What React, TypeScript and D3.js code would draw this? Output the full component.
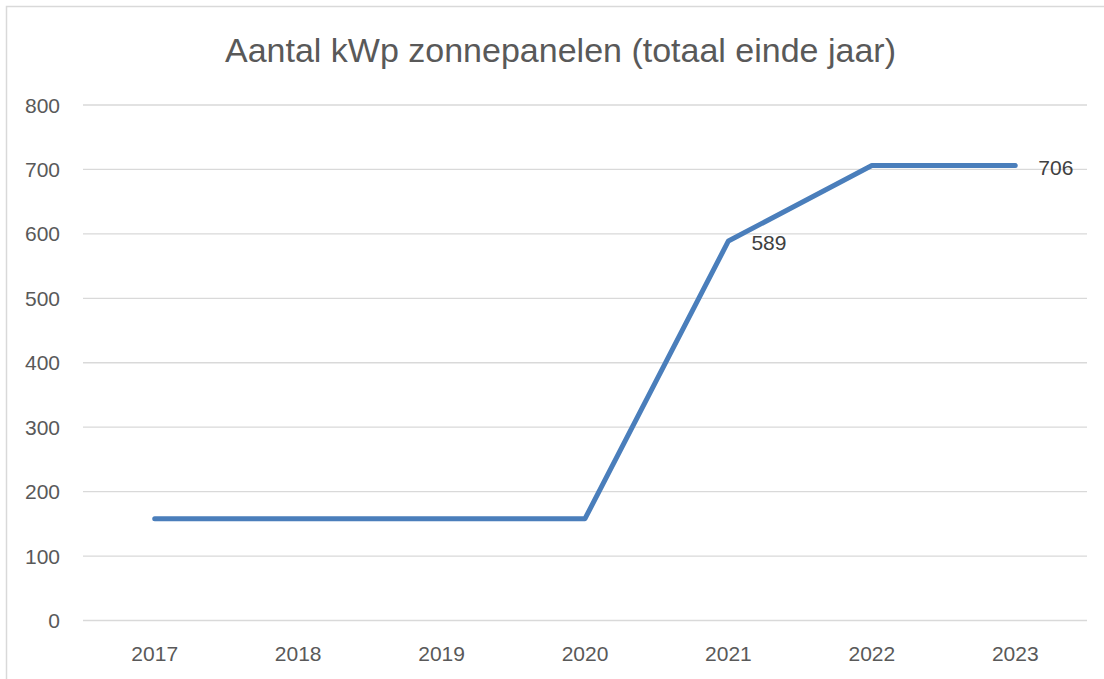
import React, { useEffect, useRef } from "react";
import * as d3 from "d3";

const title = "Aantal kWp zonnepanelen (totaal einde jaar)";
const years = ["2017", "2018", "2019", "2020", "2021", "2022", "2023"];
const values = [158, 158, 158, 158, 589, 706, 706];
const labelled = ["2021", "2023"];
const yTicks = [0, 100, 200, 300, 400, 500, 600, 700, 800];

const W = 1104;
const H = 679;
const FONT = "'Liberation Sans', Arial, sans-serif";

export default function App() {
  const ref = useRef<SVGSVGElement | null>(null);

  useEffect(() => {
    if (!ref.current) return;
    const svg = d3.select(ref.current);
    svg.selectAll("*").remove();

    const left = 83;
    const right = 1087;
    const top = 105;
    const bottom = 620.5;

    // chart frame
    svg
      .append("rect")
      .attr("x", 6.5)
      .attr("y", 6.5)
      .attr("width", W + 20)
      .attr("height", H + 20)
      .attr("fill", "#fff")
      .attr("stroke", "#d9d9d9")
      .attr("stroke-width", 1.5);

    const x = d3.scaleBand().domain(years).range([left, right]);
    const y = d3.scaleLinear().domain([0, 800]).range([bottom, top]);

    svg
      .append("text")
      .attr("x", 560.5)
      .attr("y", 62)
      .attr("text-anchor", "middle")
      .attr("font-family", FONT)
      .attr("font-size", 34)
      .attr("fill", "#595959")
      .text(title);

    const grid = svg.append("g");
    grid
      .selectAll("line")
      .data(yTicks)
      .enter()
      .append("line")
      .attr("x1", left)
      .attr("x2", right)
      .attr("y1", (d) => y(d))
      .attr("y2", (d) => y(d))
      .attr("stroke", "#d9d9d9")
      .attr("stroke-width", 1.3);

    grid
      .selectAll("text")
      .data(yTicks)
      .enter()
      .append("text")
      .attr("x", 60)
      .attr("y", (d) => y(d))
      .attr("dy", "0.36em")
      .attr("text-anchor", "end")
      .attr("font-family", FONT)
      .attr("font-size", 21)
      .attr("fill", "#595959")
      .text((d) => d);

    svg
      .append("g")
      .selectAll("text")
      .data(years)
      .enter()
      .append("text")
      .attr("x", (d) => x(d)! + x.bandwidth() / 2)
      .attr("y", 653)
      .attr("dy", "0.36em")
      .attr("text-anchor", "middle")
      .attr("font-family", FONT)
      .attr("font-size", 21)
      .attr("fill", "#595959")
      .text((d) => d);

    const pts = years.map((yr, i) => ({ yr, v: values[i] }));
    const line = d3
      .line<{ yr: string; v: number }>()
      .x((d) => x(d.yr)! + x.bandwidth() / 2)
      .y((d) => y(d.v));

    svg
      .append("path")
      .datum(pts)
      .attr("d", line)
      .attr("fill", "none")
      .attr("stroke", "#4a7ebb")
      .attr("stroke-width", 5)
      .attr("stroke-linecap", "round")
      .attr("stroke-linejoin", "round");

    svg
      .append("g")
      .selectAll("text")
      .data(pts.filter((p) => labelled.includes(p.yr)))
      .enter()
      .append("text")
      .attr("x", (d) => x(d.yr)! + x.bandwidth() / 2 + 23)
      .attr("y", (d) => y(d.v) + 1.5)
      .attr("dy", "0.36em")
      .attr("font-family", FONT)
      .attr("font-size", 21)
      .attr("fill", "#404040")
      .text((d) => d.v);
  }, []);

  return (
    <svg
      ref={ref}
      width={W}
      height={H}
      style={{ position: "absolute", left: 0, top: 0, background: "#fff" }}
    />
  );
}
